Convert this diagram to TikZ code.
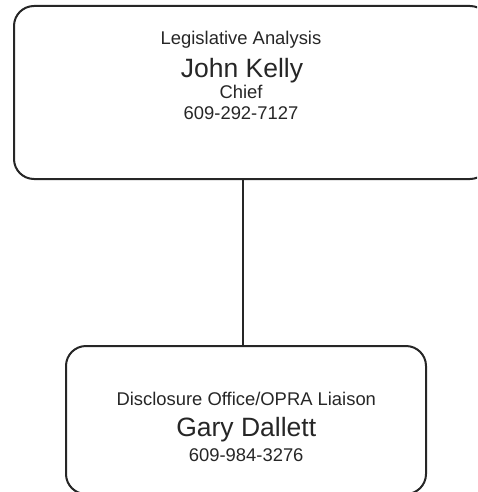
\documentclass[tikz,border=0pt]{standalone}
\usepackage{fontspec}
\setmainfont{Liberation Sans}
\begin{document}
\begin{tikzpicture}[x=1pt,y=-1pt,
  box/.style={draw=black!85, line width=2pt, rounded corners=20pt},
  conn/.style={draw=black!85, line width=2pt},
  small/.style={anchor=base, inner sep=0pt, font=\fontsize{18.4}{20}\selectfont, text=black!85},
  big/.style={anchor=base, inner sep=0pt, font=\fontsize{26.5}{28}\selectfont, text=black!85}]
\useasboundingbox (0,0) rectangle (477,492);
\clip (0,0) rectangle (477,492);
% boxes
\draw[box] (14,6) rectangle (490,179);
\draw[box] (66,346) rectangle (426,494);
\coordinate (topb) at (243,179);
\coordinate (botb) at (243,346);
\draw[conn] (topb) -- (botb);
% top box text
\node[small] (t1) at (241,45) {Legislative Analysis};
\node[big] (t2) at (242,78) {John Kelly};
\node[small] (t3) at (241,98.3) {Chief};
\node[small] (t4) at (241,120) {609-292-7127};
% bottom box text
\node[small] (b1) at (246.3,405.7) {Disclosure Office/OPRA Liaison};
\node[big] (b2) at (246.2,436.7) {Gary Dallett};
\node[small] (b3) at (246.2,461.7) {609-984-3276};
\end{tikzpicture}
\end{document}
